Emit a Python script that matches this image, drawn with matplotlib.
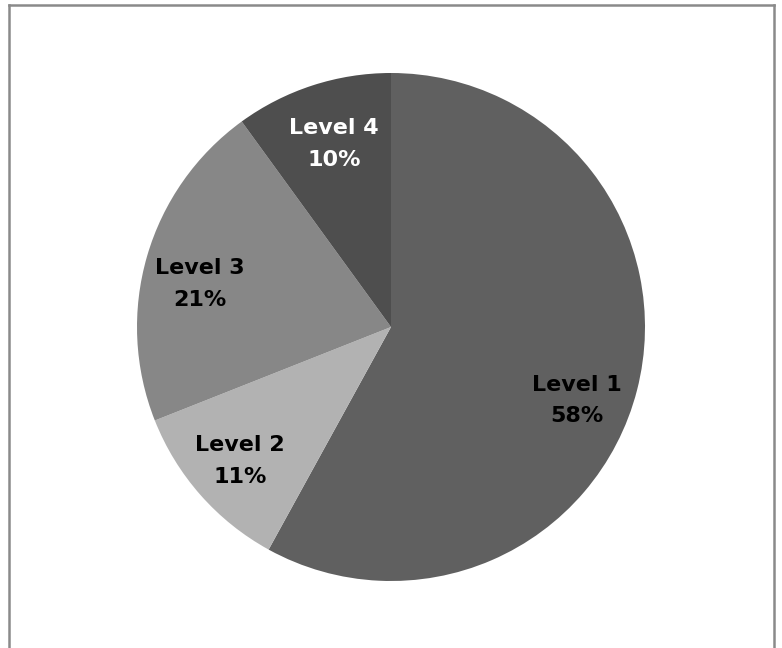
import matplotlib
matplotlib.use("Agg")
import matplotlib.pyplot as plt
from matplotlib.lines import Line2D

labels = ["Level 1", "Level 2", "Level 3", "Level 4"]
shares = [58, 11, 21, 10]
colors = ["#606060", "#b2b2b2", "#878787", "#4e4e4e"]
text_colors = ["black", "black", "black", "white"]
# label anchors (pie radius units), placed as in the original chart
label_pos = [(0.73, -0.29), (-0.594, -0.528), (-0.752, 0.169), (-0.224, 0.72)]

W, H = 782, 648
fig = plt.figure(figsize=(W / 100, H / 100), dpi=100)

# frame around the chart (bottom edge falls outside the picture)
fx = lambda px: px / W
fy = lambda py: 1 - py / H
frame = dict(color="#8a8a8a", lw=1.8)
fig.add_artist(Line2D([fx(8.5), fx(8.5)], [fy(660), fy(5)], **frame))
fig.add_artist(Line2D([fx(8.5), fx(774)], [fy(5), fy(5)], **frame))
fig.add_artist(Line2D([fx(774), fx(774)], [fy(5), fy(660)], **frame))

cx, cy, r = 391, 327, 254
ax = fig.add_axes([(cx - r) / W, (H - cy - r) / H, 2 * r / W, 2 * r / H])
wedges, texts = ax.pie(shares, colors=colors, startangle=90, counterclock=False,
                       labels=[f"{l}\n{s}%" for l, s in zip(labels, shares)],
                       labeldistance=0.78,
                       wedgeprops=dict(linewidth=0),
                       textprops=dict(fontsize=16, fontweight="bold", family="DejaVu Sans",
                                      ha="center", va="center", linespacing=1.72))
for t, c, p in zip(texts, text_colors, label_pos):
    t.set_color(c)
    t.set_horizontalalignment("center")
    t.set_position(p)
ax.set_xlim(-1, 1)
ax.set_ylim(-1, 1)
ax.set_aspect("equal")

fig.savefig("out.png", dpi=100)
